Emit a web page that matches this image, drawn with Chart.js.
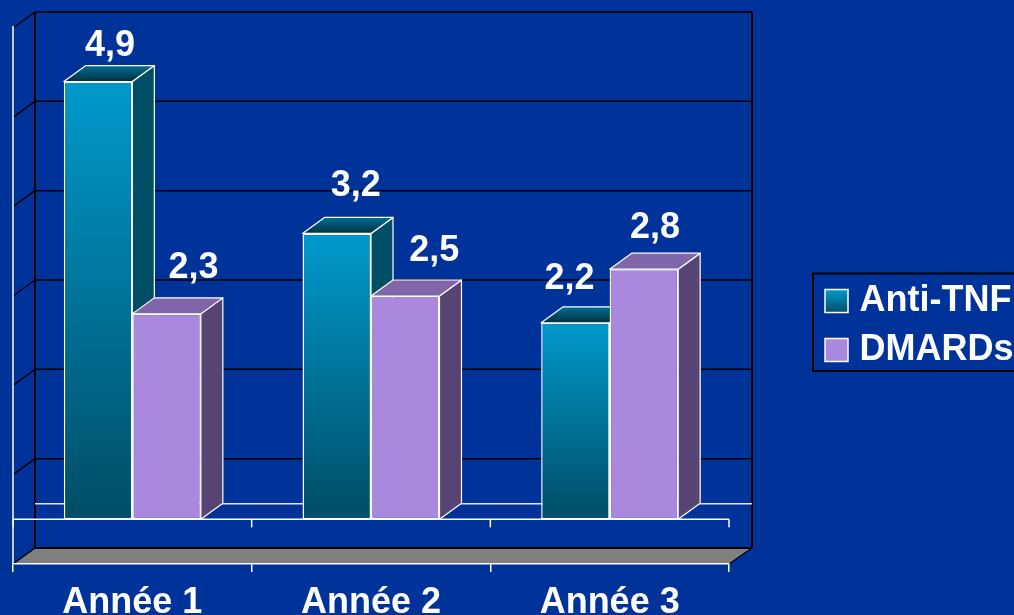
<!DOCTYPE html>
<html>
<head>
<meta charset="utf-8">
<style>html,body{margin:0;padding:0;background:#003399;overflow:hidden}canvas{display:block}</style>
<script src="https://cdn.jsdelivr.net/npm/chart.js@4"></script>
</head>
<body>
<canvas id="c" width="1014" height="615"></canvas>
<script>
const categories = ['Année 1', 'Année 2', 'Année 3'];
const antiTNF = [4.9, 3.2, 2.2];
const dmards = [2.3, 2.5, 2.8];
const seriesNames = ['Anti-TNF', 'DMARDs'];
const gridValues = [-0.5, 0.5, 1.5, 2.5, 3.5, 4.5, 5.5];

const DX = 22, DY = 16, FAMILY = '"Liberation Sans", Arial, sans-serif';
const faces = [
  { top: '#0099cc', bottom: '#004d66', side: '#004d66', capBack: '#006f94', capFront: '#00303f' },
  { top: '#aa88de', bottom: '#aa88de', side: '#584474', capBack: '#8066a8', capFront: '#8066a8' }
];
const labelShift = [
  [[12, -36], [19, -47], [-6, -44]],
  [[27, -46], [29, -45], [11, -41]]
];
function line(ctx, x1, y1, x2, y2, color, w) {
  ctx.strokeStyle = color; ctx.lineWidth = w;
  ctx.beginPath(); ctx.moveTo(x1, y1); ctx.lineTo(x2, y2); ctx.stroke();
}
function poly(ctx, pts, fill, stroke, w) {
  ctx.beginPath();
  pts.forEach((p, i) => i ? ctx.lineTo(p[0], p[1]) : ctx.moveTo(p[0], p[1]));
  ctx.closePath();
  ctx.fillStyle = fill; ctx.fill();
  if (stroke) { ctx.strokeStyle = stroke; ctx.lineWidth = w; ctx.lineJoin = 'round'; ctx.stroke(); }
}
const scene = {
  id: 'scene',
  beforeLayout(chart) {
    const l = chart.legend;
    if (l && !l._patched) {
      const f = l.fit;
      l.fit = function () { f.call(this); this.width = 285; };
      l._patched = true;
    }
  },
  afterLayout(chart) {
    const l = chart.legend;
    l.left = 818.5; l.right = 1014; l.top = 270; l.bottom = 420;
  },
  beforeDraw(chart) {
    const { ctx, chartArea: a, scales: { y } } = chart;
    ctx.save();
    ctx.fillStyle = '#003399';
    ctx.fillRect(0, 0, chart.width, chart.height);
    const bL = a.left + DX, bR = a.right + DX + 1;
    const yB = y.getPixelForValue(-0.5), yT = y.getPixelForValue(5.5);
    // floor
    poly(ctx, [[a.left, yB], [bL, yB - DY], [bR, yB - DY], [a.right, yB]], '#808080');
    // back wall grid + side wall diagonals
    gridValues.forEach(v => {
      const p = y.getPixelForValue(v);
      line(ctx, bL, p - DY, bR, p - DY, '#000000', v === -0.5 ? 2 : 1.5);
      line(ctx, a.left, p, bL, p - DY, '#000000', 1.5);
    });
    line(ctx, a.right, yB, bR, yB - DY, '#000000', 1.5);
    line(ctx, bL, yT - DY, bL, yB - DY, '#000000', 2);
    line(ctx, bR, yT - DY, bR, yB - DY, '#000000', 2);
    // front-left axis
    line(ctx, a.left, yT - 2, a.left, yB, '#ffffff', 1.5);
    // legend frame
    ctx.strokeStyle = '#000000'; ctx.lineWidth = 2;
    ctx.strokeRect(813, 273.5, 210, 97.5);
    ctx.restore();
  },
  beforeDatasetsDraw(chart) {
    const { ctx, chartArea: a, scales: { x, y } } = chart;
    const z = y.getPixelForValue(0);
    ctx.save();
    // value-zero plane: back edge and front edge with ticks
    line(ctx, a.left + DX, z - DY + 0.5, a.right + DX + 1, z - DY + 0.5, '#e4e4f4', 1.5);
    line(ctx, a.left, z, a.right, z, '#ffffff', 1.5);
    const step = (a.right - a.left) / categories.length;
    for (let i = 0; i <= categories.length; i++) {
      const t = a.left + step * i;
      line(ctx, t, z, t, z + 8, '#ffffff', 1.5);
    }
    // bar tops and sides
    categories.forEach((_, i) => {
      chart.data.datasets.forEach((ds, d) => {
        const el = chart.getDatasetMeta(d).data[i];
        const w = el.width / 2, l = el.x - w, r = el.x + w, t = el.y, b = el.base, f = faces[d];
        poly(ctx, [[r, t], [r + DX, t - DY], [r + DX, b - DY], [r, b]], f.side, '#ffffff', 1.2);
        const g = ctx.createLinearGradient(0, t - DY, 0, t);
        g.addColorStop(0, f.capBack); g.addColorStop(1, f.capFront);
        poly(ctx, [[l, t], [l + DX, t - DY], [r + DX, t - DY], [r, t]], g, '#ffffff', 1.2);
      });
    });
    ctx.restore();
  },
  afterDatasetsDraw(chart) {
    const { ctx } = chart;
    ctx.save();
    ctx.font = 'bold 36px ' + FAMILY;
    ctx.fillStyle = '#ffffff';
    ctx.textAlign = 'center'; ctx.textBaseline = 'middle';
    chart.data.datasets.forEach((ds, d) => {
      chart.getDatasetMeta(d).data.forEach((el, i) => {
        const s = labelShift[d][i], txt = String(ds.data[i]).replace('.', ',');
        ctx.fillText(txt, el.x + s[0], el.y + s[1]);
      });
    });
    ctx.restore();
  }
};
function frontFill(d) {
  return c => {
    const { y } = c.chart.scales;
    const top = y ? y.getPixelForValue(c.raw) : 0, base = y ? y.getPixelForValue(0) : 1;
    const g = c.chart.ctx.createLinearGradient(0, top, 0, base);
    g.addColorStop(0, faces[d].top); g.addColorStop(1, faces[d].bottom);
    return g;
  };
}
new Chart(document.getElementById('c'), {
  type: 'bar',
  data: {
    labels: categories,
    datasets: [
      { label: seriesNames[0], data: antiTNF, backgroundColor: frontFill(0), borderColor: '#ffffff', borderWidth: 1.5, borderSkipped: false },
      { label: seriesNames[1], data: dmards, backgroundColor: frontFill(1), borderColor: '#ffffff', borderWidth: 1.5, borderSkipped: false }
    ]
  },
  options: {
    responsive: false,
    animation: false,
    devicePixelRatio: 1,
    layout: { padding: { left: 13, top: 28, right: 0, bottom: 0 } },
    datasets: { bar: { categoryPercentage: 0.574, barPercentage: 1 } },
    scales: {
      x: {
        afterFit(s) { s.height = 51; },
        border: { display: true, color: '#ffffff', width: 1.5 },
        grid: { offset: true, drawOnChartArea: false, drawTicks: true, tickLength: 8, color: '#ffffff', lineWidth: 1.5 },
        ticks: { color: '#ffffff', padding: 9, maxRotation: 0, font: { family: FAMILY, size: 36, weight: 'bold' } }
      },
      y: { display: false, min: -0.5, max: 5.5 }
    },
    plugins: {
      tooltip: { enabled: false },
      legend: {
        display: true,
        position: 'right',
        align: 'start',
        labels: {
          color: '#ffffff',
          usePointStyle: true,
          boxWidth: 10,
          boxHeight: 23,
          padding: 13,
          font: { family: FAMILY, size: 36, weight: 'bold' },
          generateLabels(chart) {
            const g = chart.ctx.createLinearGradient(0, 290, 0, 313);
            g.addColorStop(0, faces[0].top); g.addColorStop(1, faces[0].bottom);
            return seriesNames.map((n, i) => ({
              text: n, fontColor: '#ffffff', fillStyle: i ? faces[1].top : g,
              strokeStyle: '#ffffff', lineWidth: 1.5, pointStyle: 'rect', datasetIndex: i, hidden: false
            }));
          }
        }
      }
    }
  },
  plugins: [scene]
});
</script>
</body>
</html>
